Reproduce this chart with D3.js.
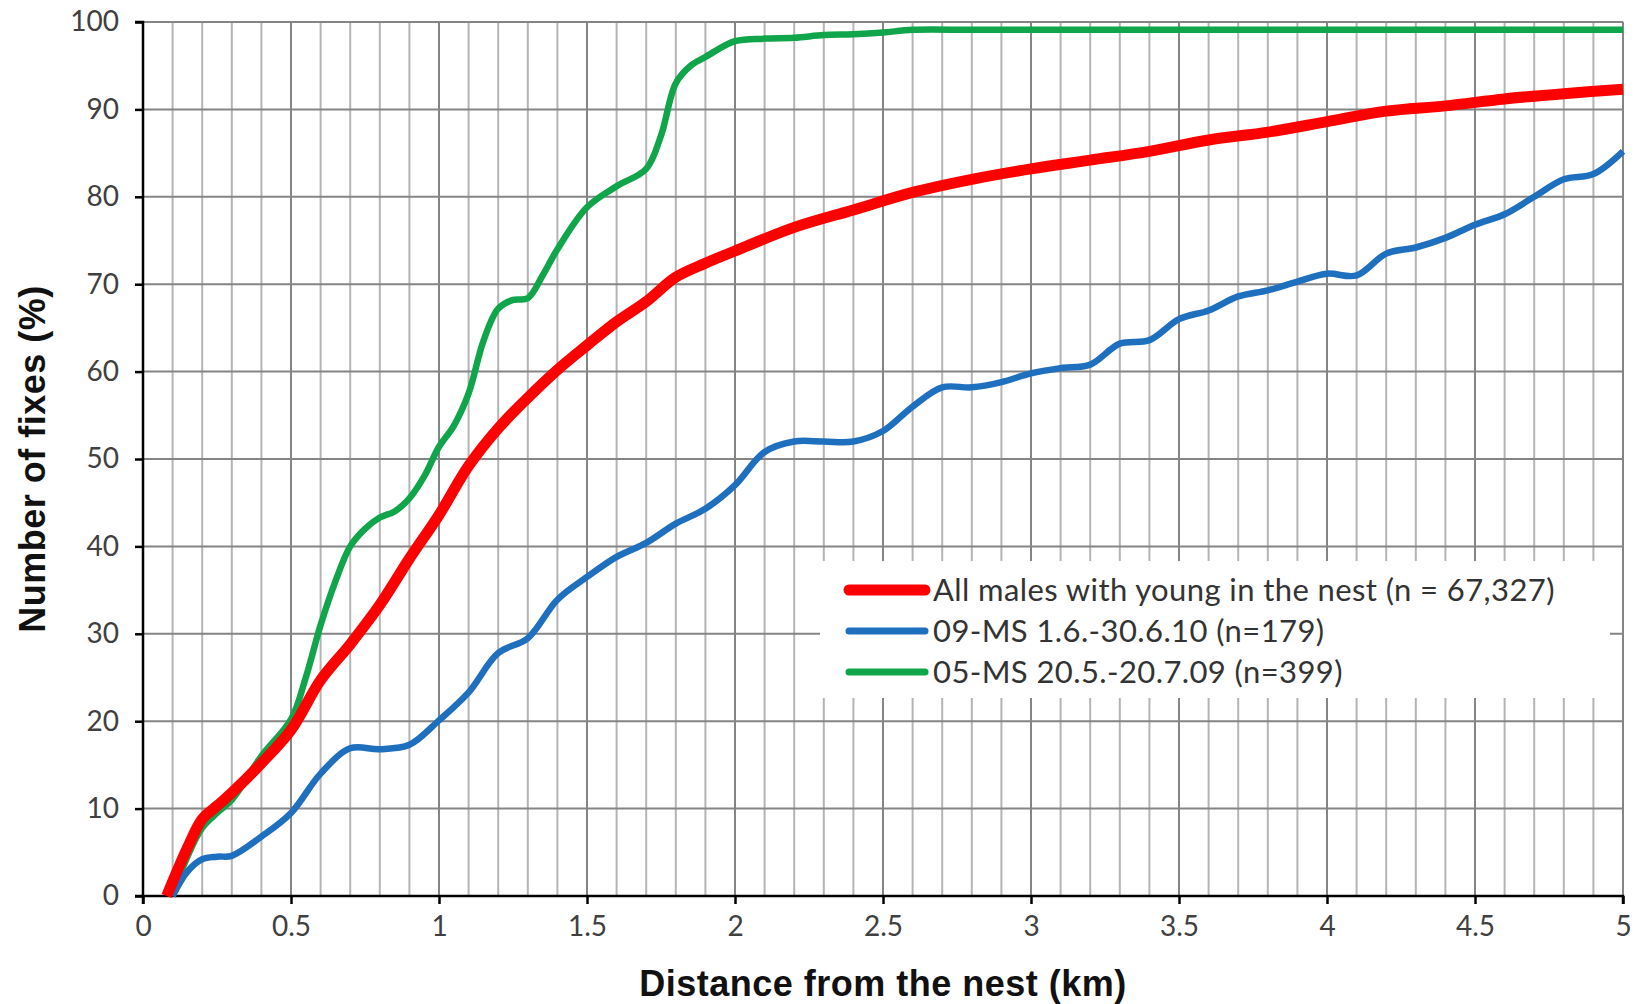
<!DOCTYPE html>
<html><head><meta charset="utf-8">
<script src="https://cdn.jsdelivr.net/npm/d3@7"></script>
<style>body{margin:0;background:#fff}svg{display:block}</style>
</head><body>
<svg id="c" width="1639" height="1004"></svg>
<script>
const xTicks = [0,0.5,1,1.5,2,2.5,3,3.5,4,4.5,5];
const xTickLabels = ["0","0.5","1","1.5","2","2.5","3","3.5","4","4.5","5"];
const yTicks = [0,10,20,30,40,50,60,70,80,90,100];

const seriesNames = ["All males with young in the nest (n = 67,327)","09-MS 1.6.-30.6.10 (n=179)","05-MS 20.5.-20.7.09 (n=399)"];

const redX = [0.08,0.15,0.2,0.25,0.3,0.4,0.5,0.6,0.7,0.8,0.9,1.0,1.1,1.2,1.3,1.4,1.5,1.6,1.7,1.8,1.9,2.0,2.2,2.4,2.6,2.8,3.0,3.2,3.4,3.6,3.8,4.0,4.2,4.4,4.6,4.8,5.0];
const redY = [0,5.5,8.8,10.3,11.8,15.2,19,24.7,28.8,33.3,38.6,43.6,49.2,53.5,57,60.2,63,65.7,68,70.8,72.4,73.8,76.5,78.5,80.5,82,83.2,84.2,85.2,86.5,87.4,88.6,89.8,90.4,91.2,91.8,92.3];

const blueX = [0.1,0.15,0.2,0.25,0.3,0.4,0.5,0.6,0.7,0.8,0.9,1.0,1.1,1.2,1.3,1.4,1.5,1.6,1.7,1.8,1.9,2.0,2.1,2.2,2.3,2.4,2.5,2.6,2.7,2.8,2.9,3.0,3.1,3.2,3.3,3.4,3.5,3.6,3.7,3.8,3.9,4.0,4.1,4.2,4.3,4.4,4.5,4.6,4.7,4.8,4.9,5.0];
const blueY = [0,2.8,4.2,4.5,4.6,6.8,9.5,14,16.9,16.8,17.3,20.1,23.3,27.8,29.5,33.9,36.5,38.8,40.4,42.6,44.3,47,50.8,52,52,52,53.2,56,58.2,58.2,58.8,59.8,60.4,60.8,63.2,63.6,66,67,68.6,69.3,70.3,71.2,71,73.5,74.2,75.3,76.8,78,80,82,82.6,85.2];

const greenX = [0.1,0.15,0.2,0.25,0.3,0.4,0.5,0.55,0.6,0.65,0.7,0.75,0.8,0.85,0.9,0.95,1.0,1.05,1.1,1.15,1.2,1.25,1.3,1.35,1.4,1.5,1.6,1.7,1.75,1.8,1.85,1.9,2.0,2.1,2.2,2.3,2.4,2.5,2.6,2.8,3.0,3.5,4.0,4.5,5.0];
const greenY = [0,4.5,7.8,9.5,11,16,20.2,25,31,36,40,42,43.3,44,45.5,48,51.4,53.8,57.5,63.5,67.2,68.2,68.4,71,74,78.8,81.2,83.2,87,93,95,96,97.8,98.1,98.2,98.5,98.6,98.8,99.1,99.1,99.1,99.1,99.1,99.1,99.1];

const svg = d3.select("#c");
const L = 143, R = 1623, T = 22, B = 896;
const x = d3.scaleLinear().domain([0,5]).range([L,R]);
const y = d3.scaleLinear().domain([0,100]).range([B,T]);

const g = svg.append("g");
const minor = d3.range(1,50).map(i=>i/10).filter(v=>Math.abs(v*2-Math.round(v*2))>1e-6);
g.selectAll(".vmin").data(minor).enter().append("line")
  .attr("x1",d=>x(d)).attr("x2",d=>x(d)).attr("y1",T).attr("y2",B)
  .attr("stroke","#b4b4b4").attr("stroke-width",2);
g.selectAll(".vmaj").data(xTicks.slice(1)).enter().append("line")
  .attr("x1",d=>x(d)).attr("x2",d=>x(d)).attr("y1",T).attr("y2",B)
  .attr("stroke","#858585").attr("stroke-width",2);
g.selectAll(".hmaj").data(yTicks.slice(1)).enter().append("line")
  .attr("x1",L).attr("x2",R).attr("y1",d=>y(d)).attr("y2",d=>y(d))
  .attr("stroke","#858585").attr("stroke-width",2);

svg.append("rect").attr("x",820).attr("y",561).attr("width",790).attr("height",137).attr("fill","#fff");

const xAxis = d3.axisBottom(x).tickValues(xTicks).tickFormat((d,i)=>xTickLabels[i]).tickSize(8).tickPadding(12);
const yAxis = d3.axisLeft(y).tickValues(yTicks).tickSize(8).tickPadding(16);
const gx = svg.append("g").attr("transform",`translate(0,${B})`).call(xAxis);
const gy = svg.append("g").attr("transform",`translate(${L},0)`).call(yAxis);
[gx,gy].forEach(a=>{
  a.select(".domain").attr("stroke","#000").attr("stroke-width",2.5);
  a.selectAll(".tick line").attr("stroke","#000").attr("stroke-width",2.5);
  a.selectAll("text").attr("font-family","Lato, 'Open Sans', sans-serif").attr("font-size",28).attr("fill","#404040");
});
gx.select(".domain").attr("d",`M${L},8V0H${R}V8`);
gy.select(".domain").attr("d",`M-8,${B}H0V${T}H-8`);

const line = d3.line().x(d=>x(d[0])).y(d=>y(d[1])).curve(d3.curveCatmullRom.alpha(0.5));
const series = [
  {xs:greenX, ys:greenY, color:"#10a54a", w:6.5},
  {xs:blueX, ys:blueY, color:"#1f6fbf", w:6.5},
  {xs:redX, ys:redY, color:"#ff0000", w:11}
];
series.forEach(s=>{
  svg.append("path").datum(s.xs.map((v,i)=>[v,s.ys[i]]))
    .attr("d",line).attr("fill","none").attr("stroke",s.color)
    .attr("stroke-width",s.w).attr("stroke-linejoin","round");
});

const legColors = ["#ff0000","#1f6fbf","#10a54a"];
const legW = [11,7,7];
const legY = [590,631,672];
seriesNames.forEach((n,i)=>{
  svg.append("line").attr("x1",849).attr("x2",925).attr("y1",legY[i]).attr("y2",legY[i])
    .attr("stroke",legColors[i]).attr("stroke-width",legW[i]).attr("stroke-linecap","round");
  svg.append("text").attr("x",933).attr("y",legY[i]).attr("dy","0.35em")
    .attr("font-family","Lato, 'Open Sans', sans-serif").attr("font-size",31).attr("fill","#333")
    .attr("letter-spacing","0.4px")
    .text(n);
});

svg.append("text").attr("x",(L+R)/2).attr("y",983).attr("dy","0.35em").attr("text-anchor","middle")
  .attr("font-family","'Liberation Sans', Arial, sans-serif").attr("font-weight","bold").attr("font-size",36)
  .attr("fill","#111").attr("letter-spacing","0.5px").text("Distance from the nest (km)");
svg.append("text").attr("transform",`translate(32,${(T+B)/2}) rotate(-90)`).attr("dy","0.35em").attr("text-anchor","middle")
  .attr("font-family","'Liberation Sans', Arial, sans-serif").attr("font-weight","bold").attr("font-size",36)
  .attr("fill","#111").attr("letter-spacing","0.5px").text("Number of fixes (%)");
</script>
</body></html>
